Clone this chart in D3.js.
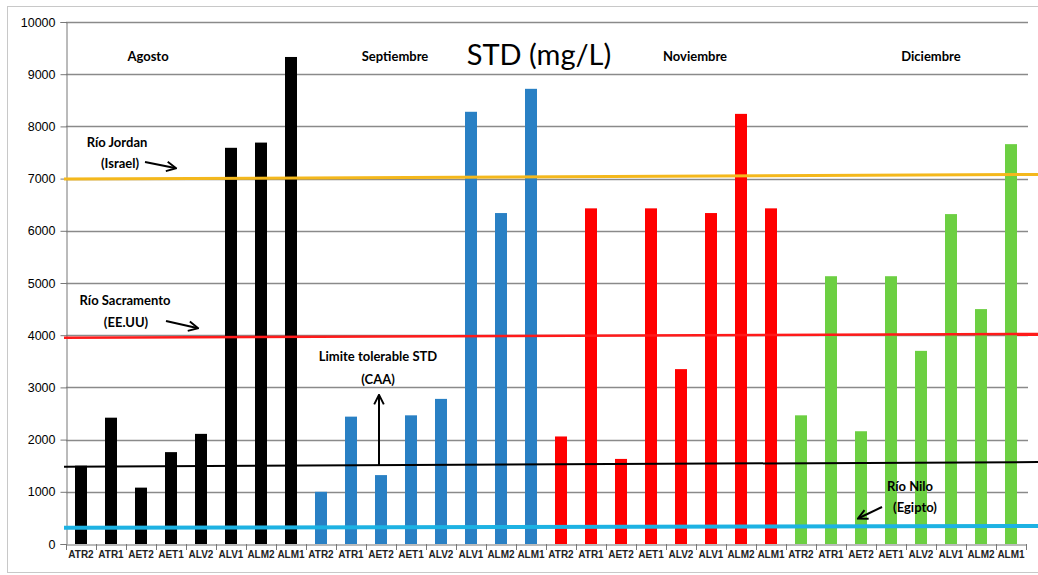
<!DOCTYPE html>
<html>
<head>
<meta charset="utf-8">
<script src="https://cdn.jsdelivr.net/npm/d3@7"></script>
<style>
  body { margin: 0; background: #fff; }
  svg { display: block; font-family: Lato, "Open Sans", sans-serif; }
</style>
</head>
<body>
<svg width="1038" height="575"></svg>
<script>
// Data
const sites = ["ATR2", "ATR1", "AET2", "AET1", "ALV2", "ALV1", "ALM2", "ALM1"];
const months = ["Agosto", "Septiembre", "Noviembre", "Diciembre"];
const agosto = [1500, 2420, 1080, 1760, 2110, 7590, 7690, 9330];
const septiembre = [1000, 2440, 1320, 2465, 2780, 8280, 6340, 8720];
const noviembre = [2060, 6430, 1630, 6430, 3350, 6340, 8240, 6430];
const diciembre = [2465, 5130, 2160, 5130, 3700, 6320, 4500, 7660];
const yTicks = [0, 1000, 2000, 3000, 4000, 5000, 6000, 7000, 8000, 9000, 10000];
// reference lines: value at left end, value at right end (hand drawn, slightly tilted)
const refNames = ["Río Jordan", "Río Sacramento", "Limite tolerable STD", "Río Nilo"];
const refSub = ["(Israel)", "(EE.UU)", "(CAA)", "(Egipto)"];
const refStart = [6990, 3950, 1480, 310];
const refEnd = [7080, 4025, 1570, 345];

const svg = d3.select("svg");
const colors = ["#000000", "#2980c4", "#ff0000", "#6ccf42"];
const refColors = ["#f4b81c", "#ff1a1a", "#000000", "#1db2e3"];
const refWidths = [3, 2.5, 2, 4];

const allVals = [agosto, septiembre, noviembre, diciembre];
const bars = [];
allVals.forEach((arr, m) => {
    arr.forEach((v, i) => bars.push({ key: m + "-" + i, site: sites[i], month: m, value: v }));
});

const x = d3.scaleBand().domain(bars.map(d => d.key)).range([66, 1026]);
const y = d3.scaleLinear().domain([0, 10000]).range([544, 22]);

// outer frame
svg.append("rect").attr("x", 7.5).attr("y", 6.5).attr("width", 1040).attr("height", 566)
    .attr("fill", "none").attr("stroke", "#c8c8c8");

// gridlines
svg.append("g").selectAll("line").data(yTicks.slice(1)).enter().append("line")
    .attr("x1", 66).attr("x2", 1028)
    .attr("y1", d => Math.round(y(d)) + 0.5).attr("y2", d => Math.round(y(d)) + 0.5)
    .attr("stroke", "#8a8a8a").attr("stroke-width", 1.3);

// y axis
const yAxis = svg.append("g").attr("transform", "translate(66.5,0)")
    .call(d3.axisLeft(y).tickValues(yTicks).tickSize(6).tickPadding(5).tickFormat(d3.format("d")));
yAxis.select(".domain").attr("stroke", "#777");
yAxis.selectAll(".tick line").attr("stroke", "#777");
yAxis.selectAll("text").attr("font-size", 12.5).attr("fill", "#000");

// x axis
const xAxis = svg.append("g").attr("transform", "translate(0,544.5)")
    .call(d3.axisBottom(x).tickSize(0).tickFormat((d, i) => bars[i].site));
xAxis.select(".domain").attr("stroke", "#777");
xAxis.selectAll("text").attr("font-size", 10).attr("font-weight", "bold").attr("dy", "1.05em").attr("fill", "#222");
svg.append("g").selectAll("line").data(d3.range(bars.length + 1)).enter().append("line")
    .attr("x1", i => Math.round(66 + i * x.step()) + 0.5).attr("x2", i => Math.round(66 + i * x.step()) + 0.5)
    .attr("y1", 544).attr("y2", 550).attr("stroke", "#777");

// bars
const bw = 12;
svg.append("g").selectAll("rect").data(bars).enter().append("rect")
    .attr("x", d => x(d.key) + x.bandwidth() / 2 - bw / 2)
    .attr("width", bw)
    .attr("y", d => y(d.value))
    .attr("height", d => y(0) - y(d.value))
    .attr("fill", d => colors[d.month]);

// reference lines
svg.append("g").selectAll("line").data(refNames).enter().append("line")
    .attr("x1", 64).attr("x2", 1038)
    .attr("y1", (d, i) => y(refStart[i])).attr("y2", (d, i) => y(refEnd[i]))
    .attr("stroke", (d, i) => refColors[i]).attr("stroke-width", (d, i) => refWidths[i]);

// month labels & title
const monthX = [148, 395, 695, 931];
svg.append("g").selectAll("text").data(months).enter().append("text")
    .attr("x", (d, i) => monthX[i]).attr("y", 61)
    .attr("text-anchor", "middle").attr("font-size", 13).attr("font-weight", "bold")
    .text(d => d);
svg.append("text").attr("x", 539).attr("y", 65).attr("text-anchor", "middle")
    .attr("font-size", 29).text("STD (mg/L)");

// annotations
const noteX = [[117, 120], [125, 126], [378, 378], [910, 915]];
const noteY = [[147, 168], [305, 327], [361, 384], [491, 512]];
refNames.forEach((name, i) => {
    [name, refSub[i]].forEach((t, j) => {
        svg.append("text").attr("x", noteX[i][j]).attr("y", noteY[i][j]).attr("text-anchor", "middle")
            .attr("font-size", 13).attr("font-weight", "bold").text(t);
    });
});

svg.append("defs").append("marker").attr("id", "ah").attr("viewBox", "0 0 10 10")
    .attr("refX", 8).attr("refY", 5).attr("markerWidth", 6).attr("markerHeight", 6)
    .attr("orient", "auto-start-reverse")
    .append("path").attr("d", "M1,1 L9,5 L1,9").attr("fill", "none").attr("stroke", "#000").attr("stroke-width", 1.6);

const arrows = [[145, 162, 175, 168], [166, 321, 197, 328], [379, 465, 379, 396], [882, 507, 859, 518]];
svg.append("g").selectAll("line").data(arrows).enter().append("line")
    .attr("x1", d => d[0]).attr("y1", d => d[1]).attr("x2", d => d[2]).attr("y2", d => d[3])
    .attr("stroke", "#000").attr("stroke-width", 2).attr("marker-end", "url(#ah)");
</script>
</body>
</html>
